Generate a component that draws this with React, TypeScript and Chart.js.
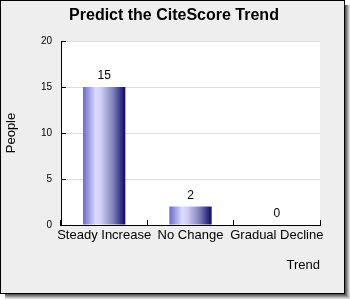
import React, { useEffect, useRef } from "react";
import { Chart, registerables } from "chart.js";

Chart.register(...registerables);

const categories = ["Steady Increase", "No Change", "Gradual Decline"];
const people = [15, 2, 0];
const yMin = 0;
const yMax = 20;
const yStep = 5;
const chartTitle = "Predict the CiteScore Trend";
const xTitle = "Trend";
const yTitle = "People";

const FONT = '"Liberation Sans", Arial, sans-serif';

export default function App() {
  const ref = useRef<HTMLCanvasElement>(null);

  useEffect(() => {
    document.body.style.margin = "0";
    const canvas = ref.current;
    if (!canvas) return;

    const frame = {
      id: "frame",
      beforeDraw(chart: any) {
        const ctx = chart.ctx;
        ctx.save();
        const shades = ["#555555", "#777777", "#999999", "#bbbbbb", "#dddddd"];
        shades.forEach((c, i) => {
          ctx.fillStyle = c;
          ctx.fillRect(345 + i, 5, 1, 290 + i);
          ctx.fillRect(5, 294 + i, 341 + i, 1);
        });
        ctx.fillStyle = "#eeeeee";
        ctx.fillRect(0, 0, 345, 294);
        ctx.strokeStyle = "#000000";
        ctx.lineWidth = 1;
        ctx.strokeRect(0.5, 0.5, 344, 293);
        const a = chart.chartArea;
        ctx.fillStyle = "#ffffff";
        ctx.fillRect(a.left, a.top, a.right - a.left, a.bottom - a.top);
        ctx.font = `bold 16px ${FONT}`;
        ctx.fillStyle = "#000000";
        ctx.textAlign = "center";
        ctx.textBaseline = "middle";
        ctx.fillText(chartTitle, 174, 16);
        ctx.restore();
      },
    };

    const valueLabels = {
      id: "valueLabels",
      afterDatasetsDraw(chart: any) {
        const ctx = chart.ctx;
        const meta = chart.getDatasetMeta(0);
        ctx.save();
        ctx.font = `12px ${FONT}`;
        ctx.fillStyle = "#000000";
        ctx.textAlign = "center";
        ctx.textBaseline = "bottom";
        meta.data.forEach((el: any, i: number) => {
          ctx.fillText(String(people[i]), el.x, el.y - 5);
        });
        ctx.restore();
      },
    };

    const barFill = (c: any) => {
      const chart = c.chart;
      const xs = chart.scales && chart.scales.x;
      const area = chart.chartArea;
      if (!xs || !area) return "#8888dd";
      const cx = xs.getPixelForValue(c.dataIndex);
      const w = ((area.right - area.left) / categories.length) * 0.49;
      const g = chart.ctx.createLinearGradient(cx - w / 2, 0, cx + w / 2, 0);
      g.addColorStop(0, "#6a6acc");
      g.addColorStop(0.3, "#dcdcff");
      g.addColorStop(0.42, "#d0d0f6");
      g.addColorStop(0.7, "#8585be");
      g.addColorStop(1, "#0a0a66");
      return g;
    };

    const chart = new Chart(canvas, {
      type: "bar",
      data: {
        labels: categories,
        datasets: [
          {
            data: people,
            backgroundColor: barFill,
            borderWidth: 0,
            barPercentage: 0.49,
            categoryPercentage: 1,
          },
        ],
      },
      options: {
        responsive: false,
        animation: false,
        events: [],
        layout: { padding: { left: 0, right: 30, top: 41, bottom: 0 } },
        plugins: {
          legend: { display: false },
          tooltip: { enabled: false },
          title: { display: false },
        },
        scales: {
          x: {
            type: "category",
            offset: true,
            grid: {
              offset: true,
              drawOnChartArea: false,
              tickLength: -5,
              tickColor: "#000000",
              tickWidth: 1,
            },
            border: { color: "#000000", width: 1 },
            ticks: {
              color: "#000000",
              font: { family: FONT, size: 13 },
              padding: 8,
              maxRotation: 0,
              autoSkip: false,
            },
            title: {
              display: true,
              text: xTitle,
              align: "end",
              color: "#000000",
              font: { family: FONT, size: 13 },
              padding: { top: 0, bottom: 27 },
            },
            afterFit: (s: any) => {
              s.height = 75;
            },
          },
          y: {
            min: yMin,
            max: yMax,
            grid: {
              color: "#dddddd",
              tickLength: -5,
              tickColor: "#000000",
              tickWidth: 1,
            },
            border: { color: "#000000", width: 1 },
            ticks: {
              stepSize: yStep,
              color: "#000000",
              font: { family: FONT, size: 10 },
              padding: 14,
            },
            title: {
              display: true,
              text: yTitle,
              color: "#000000",
              font: { family: FONT, size: 13 },
              padding: { top: 4, bottom: 0 },
            },
            afterFit: (s: any) => {
              s.width = 61;
            },
          },
        },
      },
      plugins: [frame, valueLabels],
    });

    return () => chart.destroy();
  }, []);

  return <canvas ref={ref} width={350} height={300} style={{ display: "block" }} />;
}
